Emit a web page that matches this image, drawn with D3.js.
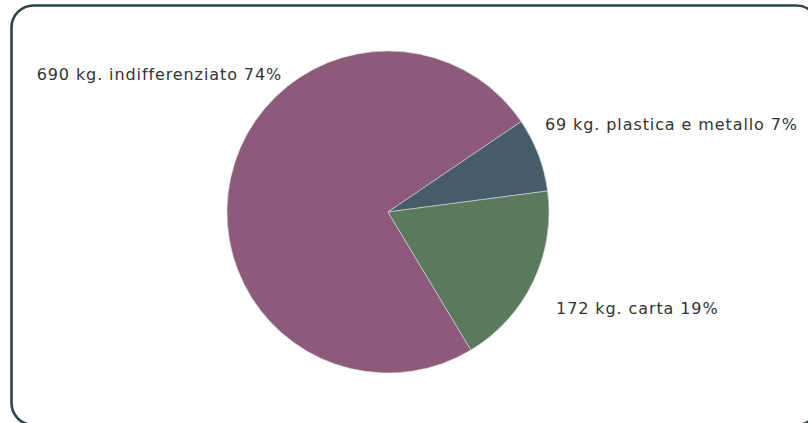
<!DOCTYPE html>
<html>
<head>
<meta charset="utf-8">
<script src="https://cdn.jsdelivr.net/npm/d3@7"></script>
<style>
  html, body { margin: 0; padding: 0; background: #fff; }
  svg { display: block; }
</style>
</head>
<body>
<div id="chart"></div>
<script>
// Waste collected, by type (kg)
const categories = ["indifferenziato", "plastica e metallo", "carta"];
const weightsKg = [690, 69, 172];
const percentLabels = ["74%", "7%", "19%"];
const sliceColors = ["#8e5a7b", "#465c6b", "#5a7a5e"];

const width = 808, height = 423;
const cx = 388, cy = 212, radius = 161;

// label placement around the pie: polar angle (deg) / distance and anchor side
const labelLayout = [
  { angle: 322.5, dist: 174, anchor: "end" },
  { angle: 60.7, dist: 180, anchor: "start" },
  { angle: 119.7, dist: 193.5, anchor: "start" }
];

const svg = d3.select("#chart").append("svg")
  .attr("width", width)
  .attr("height", height);

// rounded panel frame
svg.append("rect")
  .attr("x", 11.5).attr("y", 5.5)
  .attr("width", 807).attr("height", 419.5)
  .attr("rx", 22).attr("ry", 22)
  .attr("fill", "#fff")
  .attr("stroke", "#2e4448")
  .attr("stroke-width", 2.6);

const rows = categories.map((c, i) => ({ name: c, value: weightsKg[i], pct: percentLabels[i], color: sliceColors[i], i }));

const startDeg = 149;
const pie = d3.pie()
  .sort(null)
  .value(d => d.value)
  .startAngle(startDeg * Math.PI / 180)
  .endAngle((startDeg + 360) * Math.PI / 180);

const arc = d3.arc().innerRadius(0).outerRadius(radius);

const g = svg.append("g").attr("transform", `translate(${cx},${cy})`);

g.selectAll("path.slice")
  .data(pie(rows))
  .join("path")
  .attr("class", "slice")
  .attr("d", arc)
  .attr("fill", d => d.data.color)
  .attr("stroke", "#d8d8d8")
  .attr("stroke-width", 0.6)
  .attr("stroke-linejoin", "round");

g.selectAll("text.lbl")
  .data(pie(rows))
  .join("text")
  .attr("class", "lbl")
  .attr("x", d => Math.sin(labelLayout[d.data.i].angle * Math.PI / 180) * labelLayout[d.data.i].dist)
  .attr("y", d => -Math.cos(labelLayout[d.data.i].angle * Math.PI / 180) * labelLayout[d.data.i].dist)
  .attr("dy", "0.36em")
  .attr("text-anchor", d => labelLayout[d.data.i].anchor)
  .attr("font-family", "'DejaVu Sans', sans-serif")
  .attr("font-size", 16)
  .attr("letter-spacing", 0.9)
  .attr("fill", "#333")
  .text(d => `${d.data.value} kg. ${d.data.name} ${d.data.pct}`);
</script>
</body>
</html>
